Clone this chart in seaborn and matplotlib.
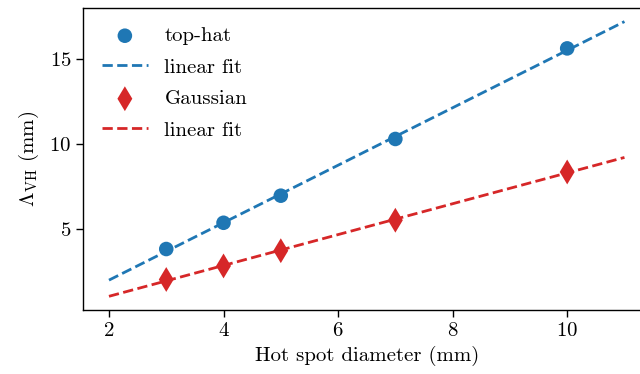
import numpy as np
import pandas as pd
import matplotlib
matplotlib.use("Agg")
import matplotlib.pyplot as plt
import seaborn as sns

# ── data ──
diameter = [3, 4, 5, 7, 10]
tophat = [3.8, 5.35, 6.95, 10.3, 15.65]
gaussian = [2.0, 2.8, 3.7, 5.5, 8.35]
fit_x = np.array([2, 11])

sns.set_style("ticks")
plt.rcParams["font.family"] = ["cmr10"]
plt.rcParams["mathtext.fontset"] = "cm"
plt.rcParams["axes.formatter.use_mathtext"] = True
plt.rcParams["font.size"] = 15
plt.rcParams["axes.linewidth"] = 1.0
for k in ["text.color", "axes.labelcolor", "xtick.color", "ytick.color", "axes.edgecolor"]:
    plt.rcParams[k] = "black"
plt.rcParams["xtick.major.size"] = 5
plt.rcParams["ytick.major.size"] = 5
plt.rcParams["xtick.major.width"] = 1.0
plt.rcParams["ytick.major.width"] = 1.0

BLUE = "#1f77b4"
RED = "#d62728"

fig = plt.figure(figsize=(6.4, 3.74), dpi=100)
ax = fig.add_axes([0.13, 0.171, 0.886, 0.808])

p_top = np.polyfit(diameter, tophat, 1)
p_gau = np.polyfit(diameter, gaussian, 1)

sns.scatterplot(x=diameter, y=tophat, ax=ax, color=BLUE, marker="o", s=110,
                edgecolor="none", label="top-hat", zorder=3)
sns.lineplot(x=fit_x, y=np.polyval(p_top, fit_x), ax=ax, color=BLUE,
             linestyle="--", linewidth=2, label="linear fit")
sns.scatterplot(x=diameter, y=gaussian, ax=ax, color=RED, marker="d", s=160,
                edgecolor="none", label="Gaussian", zorder=3)
sns.lineplot(x=fit_x, y=np.polyval(p_gau, fit_x), ax=ax, color=RED,
             linestyle="--", linewidth=2, label="linear fit")

ax.set_xticks([2, 4, 6, 8, 10])
ax.set_yticks([5, 10, 15])
ax.set_xlabel("Hot spot diameter (mm)")
ax.set_ylabel(r"$\Lambda_{\rm VH}$ (mm)", labelpad=6)
for s in ax.spines.values():
    s.set_visible(True)
ax.spines["right"].set_visible(False)

ax.legend(frameon=False, loc="upper left", handlelength=2.2, labelspacing=0.62)

plt.savefig("out.png", dpi=100, facecolor="white")
